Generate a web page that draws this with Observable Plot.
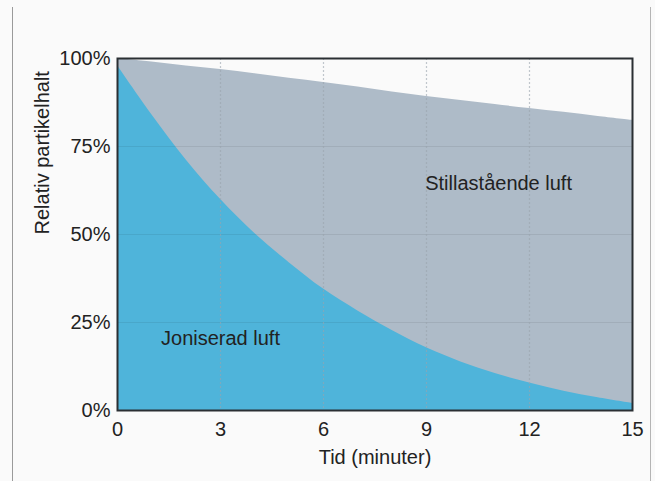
<!DOCTYPE html>
<html>
<head>
<meta charset="utf-8">
<script src="https://cdn.jsdelivr.net/npm/d3@7"></script>
<script src="https://cdn.jsdelivr.net/npm/@observablehq/plot@0.6"></script>
<style>
  html, body { margin: 0; padding: 0; background: #fafafa; }
  #wrap { position: relative; width: 655px; height: 481px; overflow: hidden; }
  #edge { position: absolute; left: 12px; top: 7px; width: 639px; height: 480px;
          border-left: 1px solid #9a9a9a; border-right: 1px solid #b5b5b5; box-sizing: border-box; }
  svg { position: absolute; left: 0; top: 0; }
</style>
</head>
<body>
<div id="wrap"><div id="edge"></div></div>
<script>
const minutes   = [0, 1, 2, 3, 4, 5, 6, 7, 8, 9, 10, 11, 12, 13, 14, 15];
const joniserad = [98, 84, 71.2, 60, 50.3, 42, 34.5, 28.3, 22.7, 17.8, 13.8, 10.5, 7.8, 5.5, 3.6, 2];
const stilla    = [100, 99, 97.9, 96.9, 95.7, 94.4, 93.2, 91.9, 90.5, 89.2, 88.1, 86.9, 85.8, 84.7, 83.5, 82.4];
const xTicks = [0, 3, 6, 9, 12, 15];
const yTicks = [0, 25, 50, 75, 100];
const xLabel = "Tid (minuter)";
const yLabel = "Relativ partikelhalt";
const labels = [
  {t: 11.1, v: 64.5, text: "Stillastående luft"},
  {t: 3.0, v: 20.5, text: "Joniserad luft"}
];

const rowsStilla = minutes.map((t, i) => ({t, v: stilla[i]}));
const rowsJon = minutes.map((t, i) => ({t, v: joniserad[i]}));

const chart = Plot.plot({
  width: 655,
  height: 481,
  marginLeft: 117,
  marginRight: 23,
  marginTop: 58,
  marginBottom: 71,
  style: {fontFamily: "'Liberation Sans', Arial, sans-serif", fontSize: "20px", color: "#222", background: "transparent"},
  x: {domain: [0, 15], ticks: xTicks, tickSize: 0, tickPadding: 11, label: null},
  y: {domain: [0, 100], ticks: yTicks, tickSize: 0, tickPadding: 7, tickFormat: d => d + "%", label: null},
  marks: [
    Plot.areaY(rowsStilla, {x: "t", y: "v", fill: "#aebbc8", curve: "catmull-rom"}),
    Plot.areaY(rowsJon, {x: "t", y: "v", fill: "#4fb4da", curve: "catmull-rom"}),
    Plot.ruleY(yTicks.slice(1, 4), {stroke: "#000", strokeOpacity: 0.07, strokeWidth: 1.2}),
    Plot.ruleX(xTicks.slice(1, 5), {stroke: "#9aa4ad", strokeOpacity: 0.6, strokeDasharray: "2,2", strokeWidth: 1.2}),
    Plot.frame({stroke: "#2a2f33", strokeWidth: 2}),
    Plot.text(labels, {x: "t", y: "v", text: "text", fill: "#222", fontSize: 20, textAnchor: "middle"}),
    Plot.text([xLabel], {frameAnchor: "bottom", dy: 53, text: d => d, fill: "#222", fontSize: 20}),
    Plot.text([yLabel], {frameAnchor: "left", dx: -75, rotate: -90, text: d => d, fill: "#222", fontSize: 20})
  ]
});
document.getElementById("wrap").appendChild(chart);
</script>
</body>
</html>
